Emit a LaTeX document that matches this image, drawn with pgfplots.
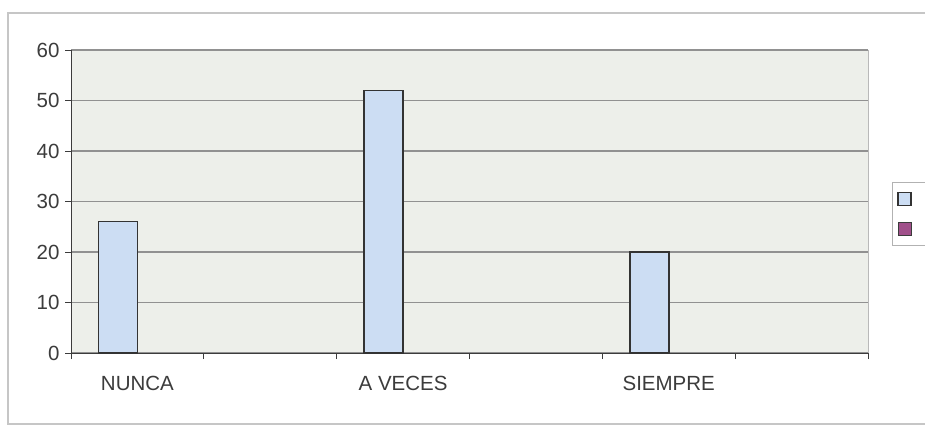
\documentclass[border=0pt]{standalone}
\usepackage{pgfplots}
\pgfplotsset{compat=1.18}
\usepackage{fontspec}
\setmainfont{Liberation Sans}
\definecolor{plotbg}{RGB}{237,239,234}
\definecolor{barblue}{RGB}{204,221,243}
\definecolor{barpink}{RGB}{160,80,138}
\definecolor{gridgray}{RGB}{145,145,145}
\definecolor{txt}{RGB}{60,60,60}
\begin{document}
\begin{tikzpicture}
\useasboundingbox (0,0) rectangle (925pt,426pt);
\fill[white] (0,0) rectangle (925pt,426pt);
\draw[gray!45, line width=1.2pt] (8pt,2pt) rectangle (940pt,413pt);
\begin{axis}[
  at={(71pt,73pt)}, anchor=south west,
  scale only axis, width=797pt, height=303pt,
  ybar, bar width=39pt, bar shift=-19.5pt,
  xmin=-0.5, xmax=5.5, ymin=0, ymax=60,
  axis x line*=bottom, axis y line*=left,
  axis line style={draw=txt, line width=1pt, -},
  axis background/.style={fill=plotbg, draw=gray!55, line width=1pt},
  xtick={0,2,4}, xticklabels={NUNCA, A VECES, SIEMPRE},
  major x tick style={draw=none},
  minor xtick={-0.5,0.5,...,5.5},
  minor x tick style={draw=txt, line width=1pt},
  minor tick length=6pt,
  ytick={0,10,...,60},
  y tick style={draw=txt, line width=1pt},
  major tick length=6pt,
  tick align=outside,
  ymajorgrids, grid style={draw=gridgray, line width=1.1pt},
  tick label style={font=\fontsize{20.5}{24}\selectfont, text=txt},
  /pgf/number format/assume math mode=true,
  xticklabel style={yshift=-14pt},
  yticklabel style={xshift=-2pt},
  legend image code/.code={\draw[#1] (0pt,-6.5pt) rectangle (13pt,6.5pt);},
  legend style={at={(axis description cs:1.030,0.564)}, anchor=north west,
    draw=gray!60, fill=white, line width=1pt, font=\fontsize{20}{22}\selectfont,
    row sep=9pt, inner xsep=5pt, inner ysep=6pt},
]
\addplot[fill=barblue, draw=txt!85!black, line width=1.5pt] coordinates {(0,26) (2,52) (4,20)};
\addlegendentry{\rule{40pt}{0pt}\strut}
\addlegendimage{fill=barpink, draw=txt, line width=1.3pt}
\addlegendentry{\rule{40pt}{0pt}\strut}
\end{axis}
\end{tikzpicture}
\end{document}
